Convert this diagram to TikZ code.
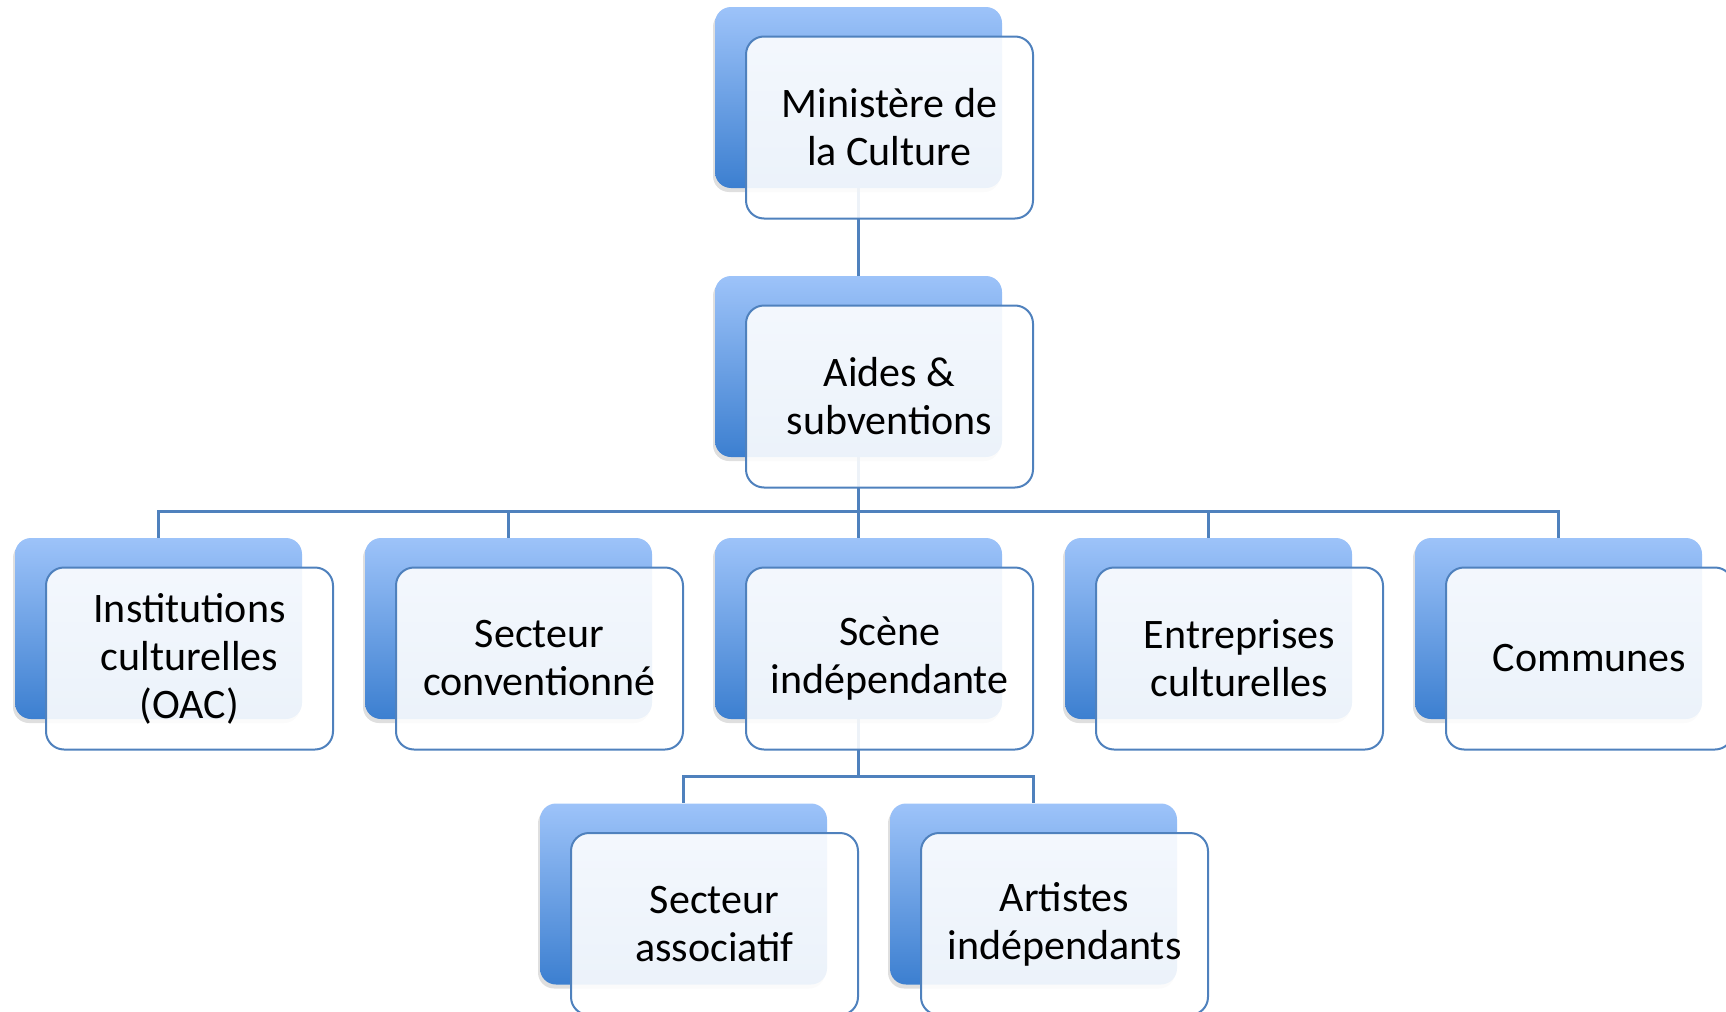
\documentclass[tikz,border=0pt]{standalone}
\usepackage{fontspec}
\setmainfont{Carlito}
\usetikzlibrary{shadows,backgrounds}
\definecolor{orgline}{RGB}{79,129,189}
\definecolor{orgtop}{RGB}{157,195,249}
\definecolor{orgmid}{RGB}{132,179,240}
\definecolor{orgbot}{RGB}{60,127,208}
\tikzset{
    org/.cd,
    back/.style={rounded corners=8pt,minimum width=143.5pt,minimum height=90.5pt,
      top color=orgtop,middle color=orgmid,bottom color=orgbot,
      drop shadow={shadow xshift=-1pt,shadow yshift=-2pt,opacity=0.25}},
    front/.style={draw=orgline,line width=1pt,rounded corners=9pt,
      minimum width=143.5pt,minimum height=91pt,fill=white,fill opacity=0.9,
      text opacity=1,align=center,font=\fontsize{21}{24}\selectfont},
    link/.style={draw=orgline,line width=1.2pt},
}

\begin{document}
\begin{tikzpicture}[x=0.5pt,y=-0.5pt]
      \useasboundingbox (0,0) rectangle (1726,1012);

      \node[org/back] (min-b) at (858.5,97.5) {};
      \node[org/front] (min) at (889.5,127.5) {Ministère de\\la Culture};

      \node[org/back] (aides-b) at (858.5,366.5) {};
      \node[org/front] (aides) at (889.5,396.5) {Aides \&\\subventions};

      \foreach[count=\i] \txt in {{Institutions\\culturelles\\(OAC)},{Secteur\\conventionné},
          {Scène\\indépendante},{Entreprises\\culturelles},{Communes}} {
        \node[org/back] (l3-\i-b) at ({158.5+350*(\i-1)},628.5) {};
        \node[org/front] (l3-\i) at ({189.5+350*(\i-1)},658.5) {\txt};
      }

      \foreach[count=\i] \txt in {{Secteur\\associatif},{Artistes\\indépendants}} {
        \node[org/back] (l4-\i-b) at ({683.5+350*(\i-1)},894) {};
        \node[org/front] (l4-\i) at ({714.5+350*(\i-1)},924) {\txt};
      }

      \begin{scope}[on background layer]
        \draw[org/link] (min-b.south) -- (aides-b.north);
        \foreach \i in {1,...,5} {
          \draw[org/link] (aides-b.south) -- ++(0,54) -| (l3-\i-b.north);
        }
        \foreach \i in {1,2} {
          \draw[org/link] (l3-3-b.south) -- ++(0,57) -| (l4-\i-b.north);
        }
      \end{scope}
    \end{tikzpicture}
\end{document}
